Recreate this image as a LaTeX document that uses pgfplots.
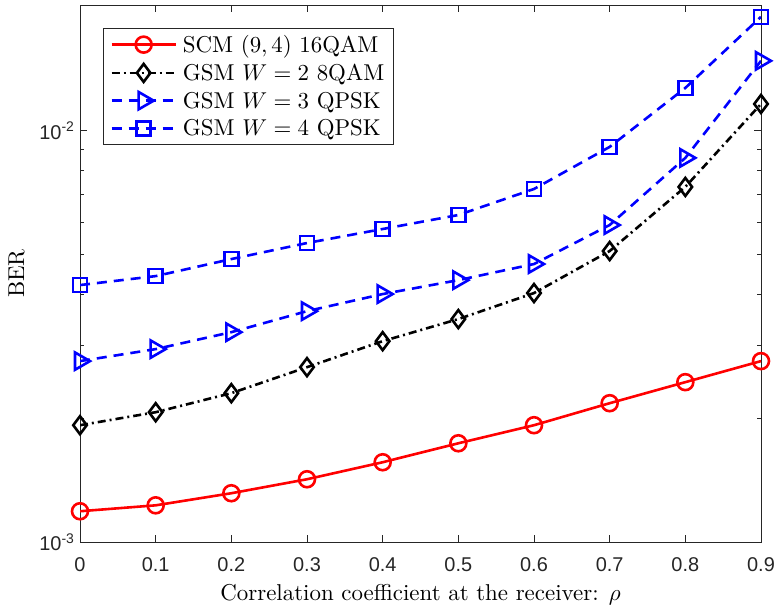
\documentclass[border=0pt]{standalone}
\usepackage{pgfplots}
\pgfplotsset{compat=1.18}
\usepackage{fontspec}
\setmainfont{lmroman10}[Extension=.otf, UprightFont=*-regular,
  ItalicFont=*-italic, BoldFont=*-bold]
\newfontfamily\tickfont{Liberation Sans}
% scale the Computer Modern math fonts freely instead of snapping to fixed sizes
\DeclareFontShape{OML}{cmm}{m}{it}{<->cmmi10}{}
\DeclareFontShape{OMS}{cmsy}{m}{n}{<->cmsy10}{}
\DeclareFontShape{OT1}{cmr}{m}{n}{<->cmr10}{}
\usetikzlibrary{plotmarks}

\definecolor{axisgray}{rgb}{0.15,0.15,0.15}

\begin{document}
\begin{tikzpicture}
\begin{axis}[
  scale only axis,
  width=681bp, height=537bp,
  xmin=0, xmax=0.9,
  ymode=log, ymin=1e-3, ymax=0.0202,
  xtick={0,0.1,0.2,0.3,0.4,0.5,0.6,0.7,0.8,0.9},
  xticklabels={0,0.1,0.2,0.3,0.4,0.5,0.6,0.7,0.8,0.9},
  ytick={1e-3,1e-2},
  yticklabels={10\textsuperscript{-3},10\textsuperscript{-2}},
  minor ytick={2e-3,3e-3,4e-3,5e-3,6e-3,7e-3,8e-3,9e-3},
  tick align=inside, tick pos=both,
  major tick length=7bp, minor tick length=4bp,
  axis line style={axisgray, line width=0.6bp},
  every tick/.style={axisgray, line width=0.6bp},
  every minor tick/.style={axisgray, line width=0.6bp},
  tick label style={font=\tickfont\fontsize{20}{20}\selectfont, text=axisgray},
  xticklabel style={yshift=-12bp},
  yticklabel style={xshift=-2bp},
  xlabel={Correlation coefficient at the receiver: $\rho$},
  ylabel={BER},
  label style={font=\fontsize{23}{26}\selectfont},
  xlabel style={yshift=-6bp},
  ylabel style={yshift=8bp},
  legend cell align=left,
  legend style={at={(0.034,0.957)}, anchor=north west,
    font=\fontsize{23}{26}\selectfont, draw=axisgray,
    inner xsep=7bp, inner ysep=5bp, row sep=6bp, column sep=4bp},
  legend image code/.code={
    \draw[line width=2.6bp, mark repeat=2, mark phase=2]
      plot coordinates {(0bp,0bp)(32bp,0bp)(64bp,0bp)};
  },
]
% SCM (9,4) 16QAM
\addplot[red, line width=2.6bp, mark=o, mark size=8bp,
  mark options={solid, fill=white}] coordinates {
  (0,1.188e-3) (0.1,1.228e-3) (0.2,1.314e-3) (0.3,1.421e-3) (0.4,1.563e-3)
  (0.5,1.738e-3) (0.6,1.923e-3) (0.7,2.175e-3) (0.8,2.447e-3) (0.9,2.753e-3)};
% GSM W=2 8QAM
\addplot[black, line width=2.6bp, dash pattern=on 8bp off 4bp on 2bp off 4bp,
  mark=diamond, mark size=9bp, mark options={solid, fill=white}] coordinates {
  (0,1.923e-3) (0.1,2.068e-3) (0.2,2.301e-3) (0.3,2.661e-3) (0.4,3.078e-3)
  (0.5,3.483e-3) (0.6,4.029e-3) (0.7,5.097e-3) (0.8,7.30e-3) (0.9,1.161e-2)};
% GSM W=3 QPSK
\addplot[blue, line width=2.6bp, dash pattern=on 10bp off 7bp,
  mark=triangle, mark size=10bp, mark options={solid, rotate=-90, fill=white}] coordinates {
  (0,2.753e-3) (0.1,2.944e-3) (0.2,3.237e-3) (0.3,3.641e-3) (0.4,4.006e-3)
  (0.5,4.331e-3) (0.6,4.740e-3) (0.7,5.896e-3) (0.8,8.585e-3) (0.9,1.478e-2)};
% GSM W=4 QPSK
\addplot[blue, line width=2.6bp, dash pattern=on 10bp off 7bp,
  mark=square, mark size=7bp, mark options={solid, fill=white}] coordinates {
  (0,4.213e-3) (0.1,4.43e-3) (0.2,4.873e-3) (0.3,5.331e-3) (0.4,5.766e-3)
  (0.5,6.236e-3) (0.6,7.215e-3) (0.7,9.13e-3) (0.8,1.27e-2) (0.9,1.891e-2)};
\legend{{SCM $(9,4)$ 16QAM}, {GSM $W=2$ 8QAM}, {GSM $W=3$ QPSK}, {GSM $W=4$ QPSK}}
\end{axis}
\pgfresetboundingbox
\path[use as bounding box] (current axis.south west) ++(-80bp,-67bp)
  rectangle ([shift={(18bp,5bp)}]current axis.north east);
\end{tikzpicture}
\end{document}
